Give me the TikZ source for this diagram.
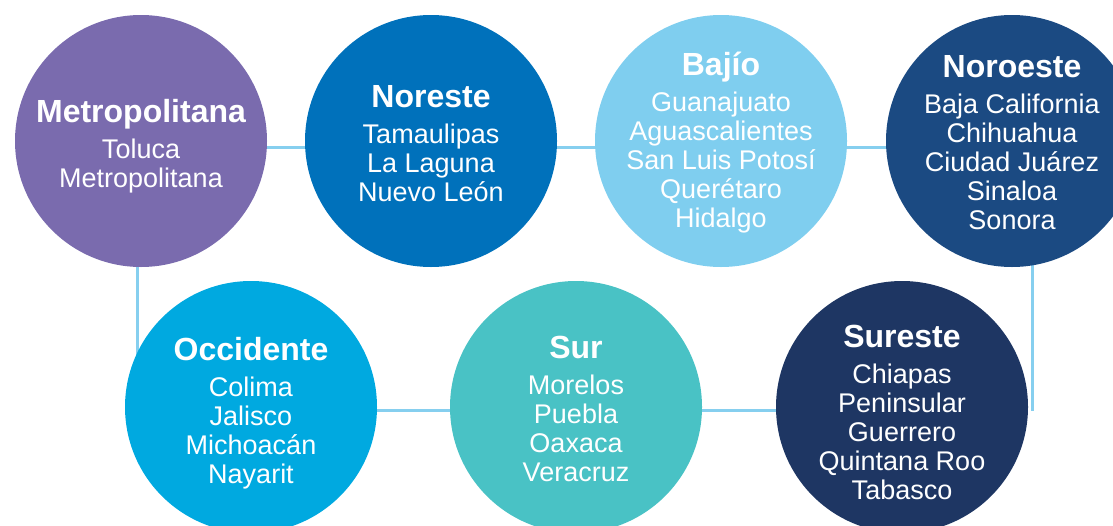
\documentclass[tikz,border=0pt]{standalone}
\usepackage{fontspec}
\setmainfont{Liberation Sans}
\usetikzlibrary{backgrounds}
\definecolor{cmet}{HTML}{7A6BAE}
\definecolor{cnore}{HTML}{0071BB}
\definecolor{cbaj}{HTML}{7FCEEF}
\definecolor{cnoro}{HTML}{1B4A82}
\definecolor{cocc}{HTML}{00A9E0}
\definecolor{csur}{HTML}{49C2C5}
\definecolor{csure}{HTML}{1E3663}
\definecolor{clink}{HTML}{86CFEF}
\newcommand{\rlabel}[2]{\parbox[t]{250pt}{\centering\fontsize{32}{36}\selectfont\bfseries #1\par\vspace{7pt}\fontsize{27}{29}\selectfont\mdseries #2\par}}
\tikzset{
  region/.style={circle, minimum size=252pt, inner sep=0pt, fill=#1},
  rtext/.style={anchor=base, text=white, inner sep=0pt},
  link/.style={draw=clink, line width=3pt},
}
\begin{document}
\begin{tikzpicture}[x=1pt,y=-1pt]
\useasboundingbox (0,0) rectangle (1113,525);
\clip (0,0) rectangle (1113,525);
% circles
\node[region=cmet]  (met)  at (141,141) {};
\node[region=cnore] (nore) at (431,141) {};
\node[region=cbaj]  (baj)  at (721,141) {};
\node[region=cnoro] (noro) at (1012,141) {};
\node[region=cocc]  (occ)  at (251,407) {};
\node[region=csur]  (sur)  at (576,407) {};
\node[region=csure] (sure) at (902,407) {};
\coordinate (rend) at (1032,411);
% texts
\node[rtext] (metT)  at (141,122) {\rlabel{Metropolitana}{Toluca\\Metropolitana}};
\node[rtext] (noreT) at (431,107) {\rlabel{Noreste}{Tamaulipas\\La Laguna\\Nuevo León}};
\node[rtext] (bajT)  at (721,75)  {\rlabel{Bajío}{Guanajuato\\Aguascalientes\\San Luis Potosí\\Querétaro\\Hidalgo}};
\node[rtext] (noroT) at (1012,77) {\rlabel{Noroeste}{Baja California\\Chihuahua\\Ciudad Juárez\\Sinaloa\\Sonora}};
\node[rtext] (occT)  at (251,360) {\rlabel{Occidente}{Colima\\Jalisco\\Michoacán\\Nayarit}};
\node[rtext] (surT)  at (576,358) {\rlabel{Sur}{Morelos\\Puebla\\Oaxaca\\Veracruz}};
\node[rtext] (sureT) at (902,347) {\rlabel{Sureste}{Chiapas\\Peninsular\\Guerrero\\Quintana Roo\\Tabasco}};
% connectors
\begin{pgfonlayer}{background}
\draw[link] ([yshift=-6pt]met.center) -- ([yshift=-6pt]nore.center);
\draw[link] ([yshift=-6pt]nore.center) -- ([yshift=-6pt]baj.center);
\draw[link] ([yshift=-6pt]baj.center) -- ([yshift=-6pt]noro.center);
\draw[link] ([xshift=-4pt]met.center) -- ([xshift=-4pt]met.center |- occ.center);
\draw[link] ([xshift=20pt]noro.center) -- (rend);
\draw[link] ([yshift=-3pt]occ.center) -- ([yshift=-3pt]sur.center);
\draw[link] ([yshift=-3pt]sur.center) -- ([yshift=-3pt]sure.center);
\end{pgfonlayer}
\end{tikzpicture}
\end{document}
